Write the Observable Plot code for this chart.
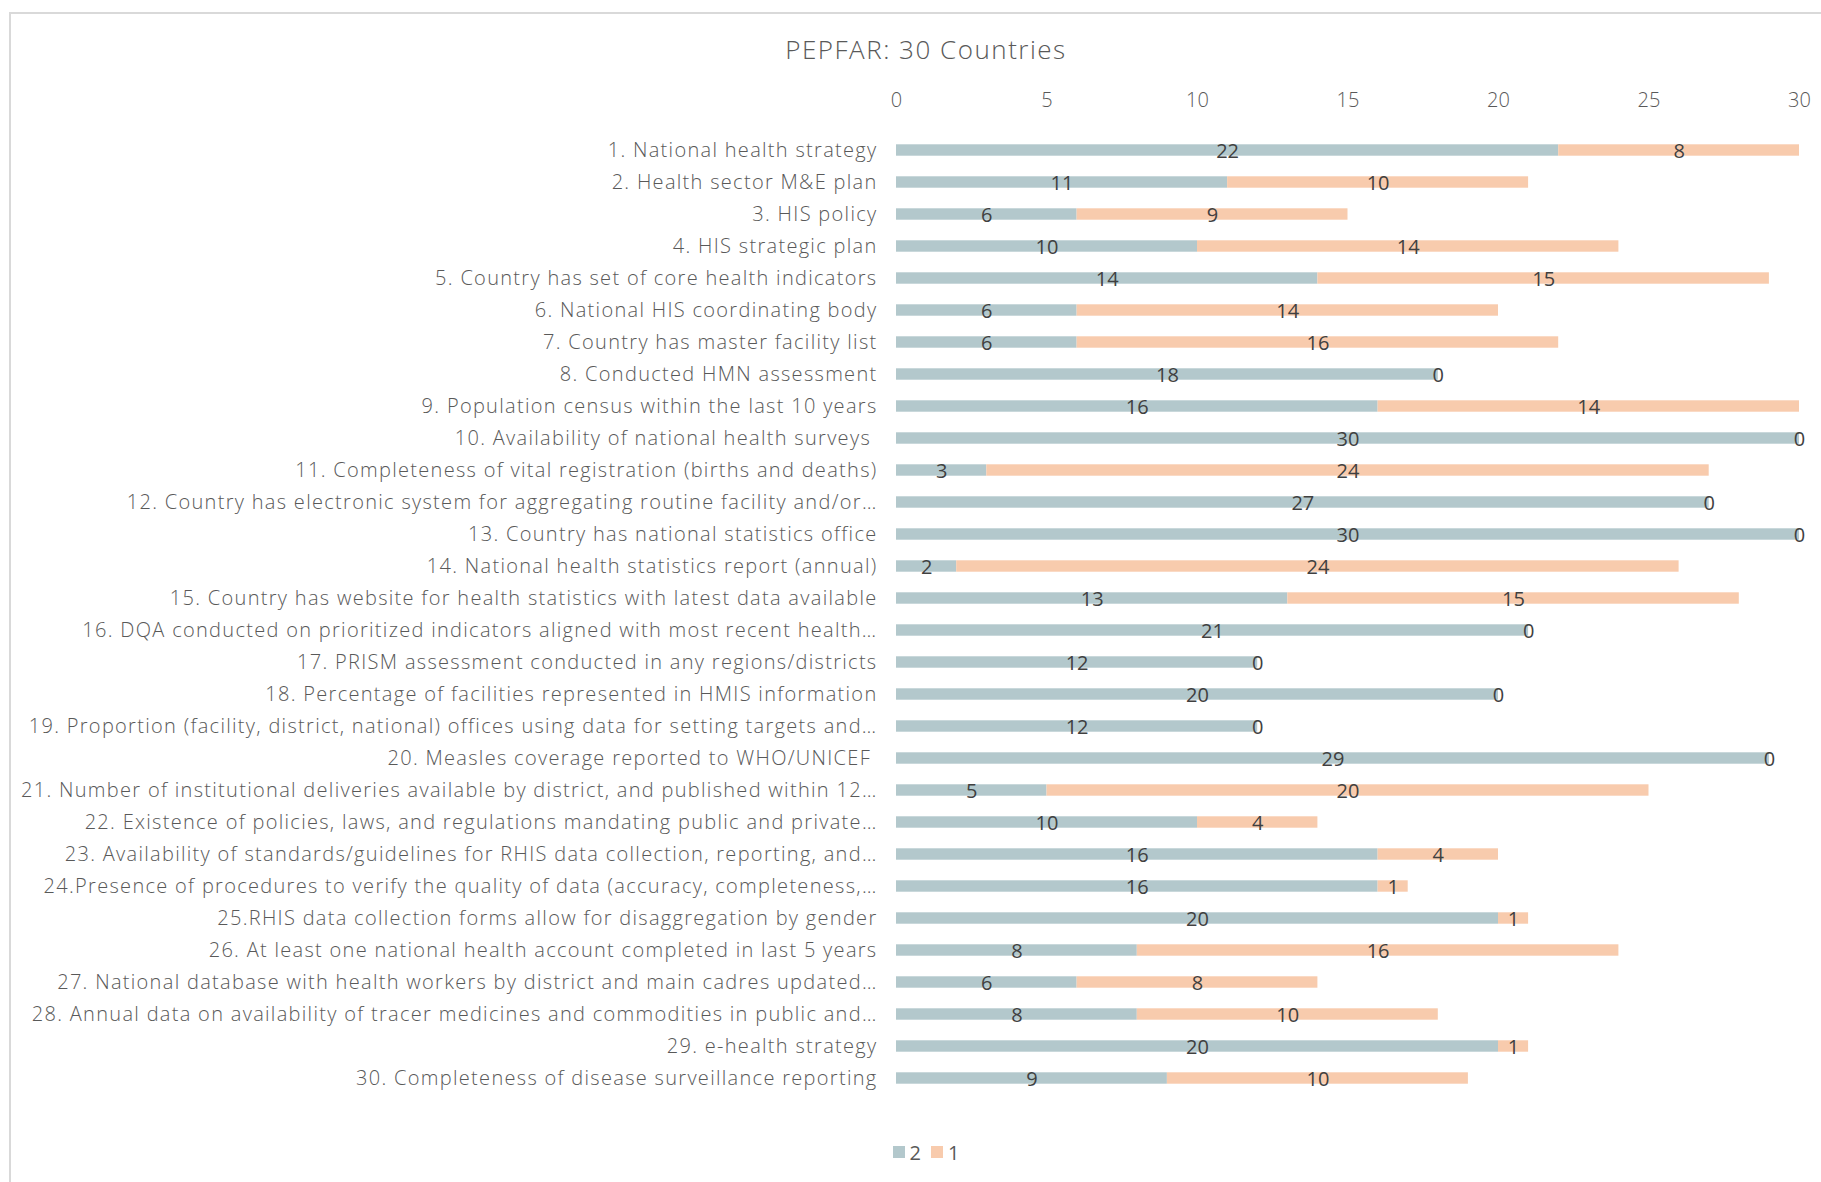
<!DOCTYPE html>
<html>
<head>
<meta charset="utf-8">
<script src="https://cdn.jsdelivr.net/npm/d3@7"></script>
<script src="https://cdn.jsdelivr.net/npm/@observablehq/plot@0.6"></script>
<style>
  html, body { margin: 0; padding: 0; background: #fff; overflow: hidden; }
  body { width: 1821px; height: 1182px; font-family: "Open Sans", sans-serif; }
  #frame {
    position: absolute; left: 9px; top: 12px; width: 1830px; height: 1200px;
    border-left: 2px solid #d9d9d9; border-top: 2px solid #d9d9d9;
  }
  #title { height: 70px; line-height: 70px; text-align: center; font-size: 26px; letter-spacing: 1.5px; color: #595959; font-weight: 300; }
  #chart svg { display: block; max-width: none !important; height: 1038px !important; }
  #chart g[aria-label="y-axis tick label"] text { letter-spacing: 1.3px; font-weight: 300; }
  #chart g[aria-label="x-axis tick label"] text { font-weight: 300; }
  #legend { height: 60px; display: flex; justify-content: center; align-items: center; font-size: 20px; color: #595959; }
  .item { display: flex; align-items: center; margin: 0 5px; }
  .sw { width: 12px; height: 12px; margin-right: 5px; }
</style>
</head>
<body>
<div id="frame">
  <div id="title">PEPFAR: 30 Countries</div>
  <div id="chart"></div>
  <div id="legend"></div>
</div>
<script>
const categories = [
  "1. National health strategy",
  "2. Health sector M&E plan",
  "3. HIS policy",
  "4. HIS strategic plan",
  "5. Country has set of core health indicators",
  "6. National HIS coordinating body",
  "7. Country has master facility list",
  "8. Conducted HMN assessment",
  "9. Population census within the last 10 years",
  "10. Availability of national health surveys ",
  "11. Completeness of vital registration (births and deaths)",
  "12. Country has electronic system for aggregating routine facility and/or…",
  "13. Country has national statistics office",
  "14. National health statistics report (annual)",
  "15. Country has website for health statistics with latest data available",
  "16. DQA conducted on prioritized indicators aligned with most recent health…",
  "17. PRISM assessment conducted in any regions/districts",
  "18. Percentage of facilities represented in HMIS information",
  "19. Proportion (facility, district, national) offices using data for setting targets and…",
  "20. Measles coverage reported to WHO/UNICEF ",
  "21. Number of institutional deliveries available by district, and published within 12…",
  "22. Existence of policies, laws, and regulations mandating public and private…",
  "23. Availability of standards/guidelines for RHIS data collection, reporting, and…",
  "24.Presence of procedures to verify the quality of data (accuracy, completeness,…",
  "25.RHIS data collection forms allow for disaggregation by gender",
  "26. At least one national health account completed in last 5 years",
  "27. National database with health workers by district and main cadres updated…",
  "28. Annual data on availability of tracer medicines and commodities in public and…",
  "29. e-health strategy",
  "30. Completeness of disease surveillance reporting"
];
const seriesNames = ["2", "1"];
const series2 = [22, 11, 6, 10, 14, 6, 6, 18, 16, 30, 3, 27, 30, 2, 13, 21, 12, 20, 12, 29, 5, 10, 16, 16, 20, 8, 6, 8, 20, 9];
const series1 = [8, 10, 9, 14, 15, 14, 16, 0, 14, 0, 24, 0, 0, 24, 15, 0, 0, 0, 0, 0, 20, 4, 4, 1, 1, 16, 8, 10, 1, 10];
const xTicks = [0, 5, 10, 15, 20, 25, 30];
const colors = ["#b3c8cc", "#f8cbad"];

const rows = [];
categories.forEach((c, i) => {
  rows.push({cat: c, series: seriesNames[0], value: series2[i]});
  rows.push({cat: c, series: seriesNames[1], value: series1[i]});
});

const W = 1810, H = 1038, MT = 41, MB = 20, ML = 885, MR = 22;
const plot = Plot.plot({
  width: W,
  height: H,
  marginTop: MT,
  marginBottom: MB,
  marginLeft: ML,
  marginRight: MR,
  style: {fontFamily: "'Open Sans', sans-serif", fontSize: "20px", color: "#595959", background: "transparent"},
  x: {domain: [0, 30], range: [ML, W - MR], axis: null, label: null},
  y: {domain: categories, range: [MT, H - MB], paddingInner: 0, paddingOuter: 0, axis: null, label: null},
  color: {domain: seriesNames, range: colors},
  marks: [
    Plot.gridX(xTicks, {stroke: "#d9d9d9", strokeOpacity: 1, strokeWidth: 2, y1: MT, y2: H - MB}),
    Plot.axisX(xTicks, {anchor: "top", tickSize: 0, tickPadding: 19, fontSize: 20, label: null, tickFormat: d => d}),
    Plot.axisY({tickSize: 0, tickPadding: 19, fontSize: 20, label: null, textOverflow: null, lineWidth: Infinity}),
    Plot.barX(rows, Plot.stackX({x: "value", y: "cat", z: "series", fill: "series", insetTop: 10.3, insetBottom: 10.3})),
    Plot.text(rows, Plot.stackX({x: "value", y: "cat", z: "series", text: d => String(d.value), fill: "#404040", fontSize: 20, dy: 1}))
  ]
});
document.getElementById("chart").appendChild(plot);

const legend = document.getElementById("legend");
seriesNames.forEach((s, i) => {
  const item = document.createElement("div");
  item.className = "item";
  const sw = document.createElement("div");
  sw.className = "sw";
  sw.style.background = colors[i];
  const t = document.createElement("span");
  t.textContent = s;
  item.appendChild(sw);
  item.appendChild(t);
  legend.appendChild(item);
});
</script>
</body>
</html>
